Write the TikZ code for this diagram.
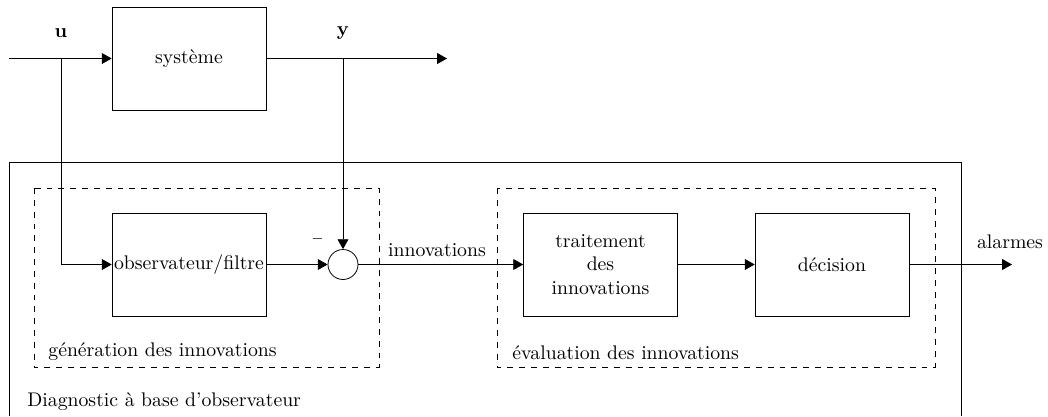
\documentclass[tikz,border=0pt]{standalone}
\usetikzlibrary{arrows.meta}
\begin{document}
\begin{tikzpicture}[x=0.507pt,y=-0.507pt,
  blockbox/.style={draw,minimum width=78pt,minimum height=52.3pt,inner sep=0pt,align=center},
  sumcirc/.style={draw,circle,minimum size=15.2pt,inner sep=0pt},
  zonebox/.style={draw,dashed},
  framebox/.style={draw},
  conn/.style={-{Triangle[length=5pt,width=5.5pt]}},
  lbl/.style={inner sep=0pt}]
\useasboundingbox (0,0) rectangle (1048,416);
% frames
\draw[framebox] (9,416) |- (961,162) -- (961,416);
\draw[zonebox] (34,188) rectangle (379,367);
\draw[zonebox] (497,188) rectangle (935,367);
% blocks
\node[blockbox] (sys) at (189,58.5) {système};
\node[blockbox] (obs) at (189,264.5) {observateur/filtre};
\node[sumcirc] (sum) at (343,264.5) {};
\node[blockbox] (trait) at (600.5,264.5) {traitement\\des\\innovations};
\node[blockbox] (dec) at (832,264.5) {décision};
% coordinates
\coordinate (in) at (9,58.5);
\coordinate (ub) at (61,58.5);
\coordinate (yb) at (343,58.5);
\coordinate (out) at (447,58.5);
\coordinate (alm) at (1012,264.5);
% labels
\node[lbl] (ulab) at (61,33) {$\mathbf{u}$};
\node[lbl] (ylab) at (343,33) {$\mathbf{y}$};
\node[lbl] (minus) at (317.5,239) {$\scriptstyle -$};
\node[lbl] (innov) at (437,250) {innovations};
\node[lbl] (alarm) at (1010,242) {alarmes};
\node[lbl,anchor=west] (gen) at (48,352) {génération des innovations};
\node[lbl,anchor=west] (eval) at (512,353) {évaluation des innovations};
\node[lbl,anchor=west] (diag) at (27,402) {Diagnostic à base d'observateur};
% connectors
\draw[conn] (in) -- (sys.west);
\draw[conn] (ub) |- (obs.west);
\draw[conn] (sys.east) -- (out);
\draw[conn] (yb) -- (sum.north);
\draw[conn] (obs.east) -- (sum.west);
\draw[conn] (sum.east) -- (trait.west);
\draw[conn] (trait.east) -- (dec.west);
\draw[conn] (dec.east) -- (alm);
\end{tikzpicture}
\end{document}
